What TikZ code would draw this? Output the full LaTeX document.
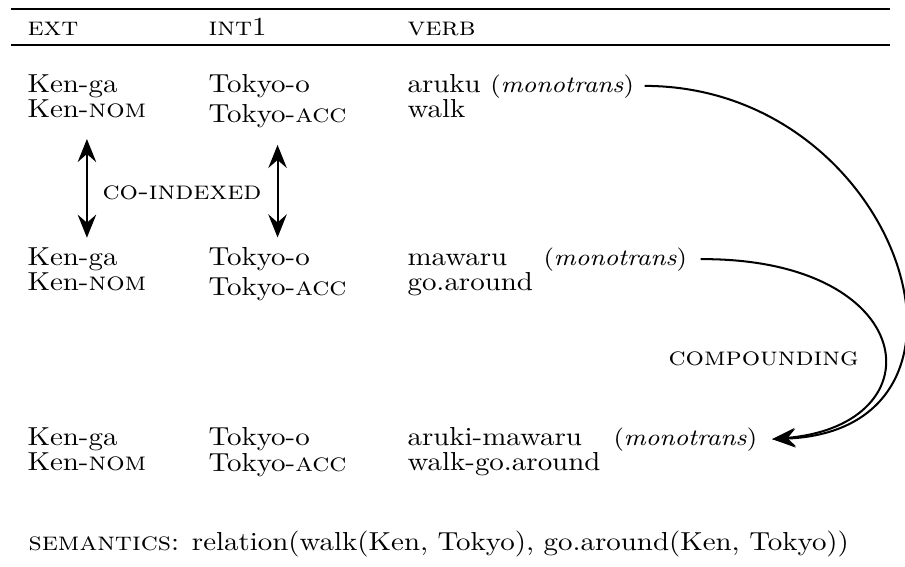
\documentclass[tikz,border=0pt]{standalone}
\usepackage{tikz}
\usetikzlibrary{arrows.meta}

\begin{document}
\begin{tikzpicture}[
        x=0.346pt, y=-0.346pt,
        txt/.style={anchor=base west, inner sep=0pt, yscale=0.9},
        rulel/.style={line width=0.75pt},
        coarrow/.style={<->, line width=0.7pt, >={Stealth[length=8pt, width=6.4pt, inset=2.8pt]}},
        comparrow/.style={->, line width=0.7pt, >={Stealth[length=8pt, width=6.4pt, inset=2.8pt]}}
    ]
        \useasboundingbox (0,0) rectangle (905,566);

        % table head
        \draw[rulel] (11,9) -- (890,9);
        \draw[rulel] (11,45) -- (890,45);
        \node[txt] (ext) at (27,35) {\textsc{ext}};
        \node[txt] (intone) at (208,35) {\textsc{int}1};
        \node[txt] (verb) at (407,35) {\textsc{verb}};

        % aruku
        \node[txt] (ken1) at (27,92) {Ken-ga};
        \node[txt] (nom1) at (27,117) {Ken-\textsc{nom}};
        \node[txt] (tokyo1) at (208,92) {Tokyo-o};
        \node[txt] (acc1) at (208,122) {Tokyo-\textsc{acc}};
        \node[txt] (aruku) at (407,92) {aruku {\small(\textit{monotrans})}};
        \node[txt] (walk) at (407,117) {walk};

        % mawaru
        \node[txt] (ken2) at (27,265) {Ken-ga};
        \node[txt] (nom2) at (27,290) {Ken-\textsc{nom}};
        \node[txt] (tokyo2) at (208,265) {Tokyo-o};
        \node[txt] (acc2) at (208,295) {Tokyo-\textsc{acc}};
        \node[txt] (mawaru) at (407,265) {mawaru};
        \node[txt] (mono2) at (543,265) {\small(\textit{monotrans})};
        \node[txt] (around) at (407,290) {go.around};

        % aruki-mawaru
        \node[txt] (ken3) at (27,445) {Ken-ga};
        \node[txt] (nom3) at (27,470) {Ken-\textsc{nom}};
        \node[txt] (tokyo3) at (208,445) {Tokyo-o};
        \node[txt] (acc3) at (208,471) {Tokyo-\textsc{acc}};
        \node[txt] (compound) at (407,445) {aruki-mawaru};
        \node[txt] (mono3) at (613,445) {\small(\textit{monotrans})};
        \node[txt] (walkaround) at (407,470) {walk-go.around};

        \node[txt] (coindex) at (102,199) {\textsc{co-indexed}};
        \node[txt] (compounding) at (668,365) {\textsc{compounding}};
        \node[txt] (semantics) at (28,550) {\textsc{semantics}: relation(walk(Ken, Tokyo), go.around(Ken, Tokyo))};

        \draw[coarrow, shorten <=7.3pt, shorten >=3.1pt] (nom1.south) -- (nom1.south |- ken2.north);
        \draw[coarrow, shorten <=5.9pt, shorten >=3.1pt] (acc1.south) -- (acc1.south |- tokyo2.north);

        \draw[comparrow] ([xshift=3.5pt]aruku.east) .. controls (900,86) and (1010,430) .. ([xshift=5pt]mono3.east);
        \draw[comparrow] ([xshift=4.5pt]mono2.east) .. controls (920,258) and (940,425) .. ([xshift=5pt]mono3.east);
    \end{tikzpicture}
\end{document}
